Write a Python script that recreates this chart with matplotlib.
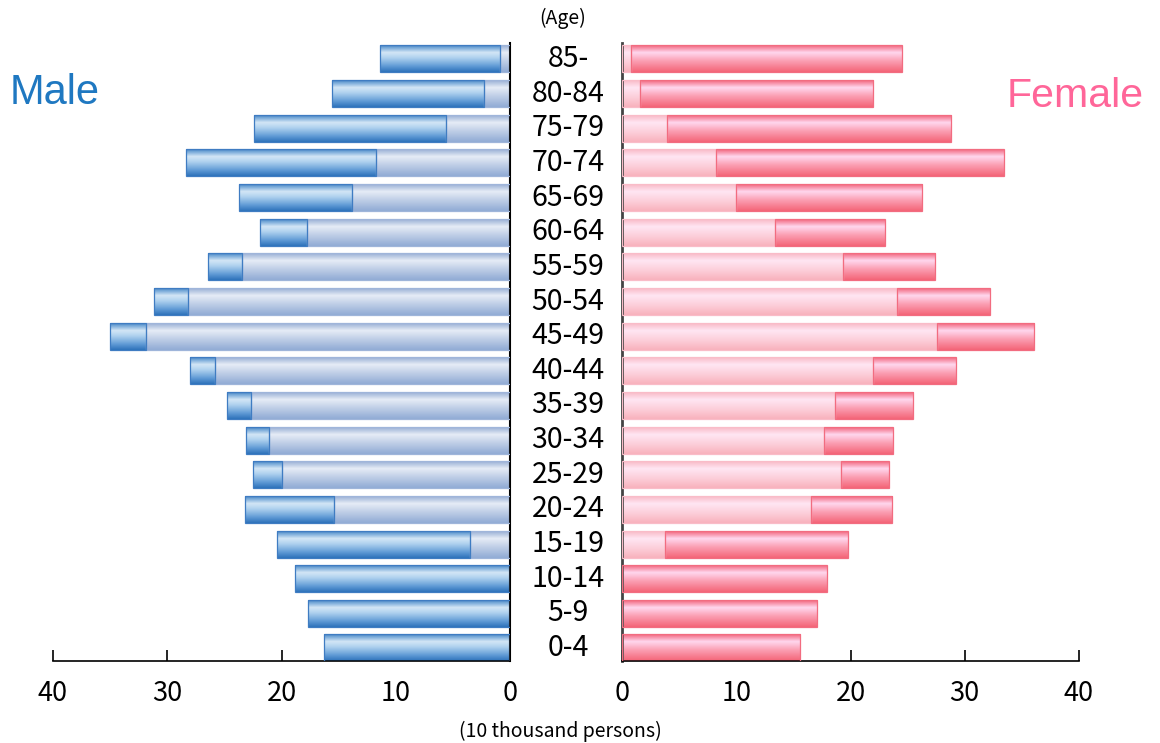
import numpy as np
import matplotlib
matplotlib.use("Agg")
import matplotlib.pyplot as plt
from matplotlib.colors import LinearSegmentedColormap
from matplotlib import transforms

ages = ["0-4", "5-9", "10-14", "15-19", "20-24", "25-29", "30-34", "35-39", "40-44",
        "45-49", "50-54", "55-59", "60-64", "65-69", "70-74", "75-79", "80-84", "85-"]

# total population (10 thousand persons), youngest first
male_total = [16.3, 17.7, 18.8, 20.4, 23.2, 22.5, 23.1, 24.8, 28.0,
              35.0, 31.2, 26.4, 21.9, 23.7, 28.4, 22.4, 15.6, 11.4]
female_total = [15.6, 17.1, 17.9, 19.8, 23.6, 23.4, 23.7, 25.5, 29.2,
                36.1, 32.2, 27.4, 23.0, 26.3, 33.4, 28.8, 22.0, 24.5]
# inner (lighter) part of each bar
male_inner = [0, 0, 0, 3.5, 15.4, 20.0, 21.1, 22.7, 25.8,
              31.9, 28.2, 23.5, 17.8, 13.8, 11.7, 5.6, 2.3, 0.9]
female_inner = [0, 0, 0, 3.8, 16.5, 19.2, 17.7, 18.6, 22.0,
                27.6, 24.1, 19.3, 13.4, 10.0, 8.2, 3.9, 1.6, 0.8]

ticks = [0, 10, 20, 30, 40]

plt.rcParams['font.family'] = ['Noto Sans CJK JP', 'DejaVu Sans']

def cmap(stops):
    return LinearSegmentedColormap.from_list("g", stops)

blue_dark = cmap([(0, "#2c6cb3"), (0.1, "#6aa0d4"), (0.3, "#d3e6f6"), (0.5, "#add0ee"),
                  (0.8, "#5f9ad5"), (1, "#2e72bb")])
blue_light = cmap([(0, "#8ea7d1"), (0.3, "#e6ecf6"), (0.6, "#c0cfe7"), (1, "#91abd5")])
pink_dark = cmap([(0, "#f1566e"), (0.3, "#ffd7ee"), (0.6, "#fba0b4"), (1, "#f46578")])
pink_light = cmap([(0, "#f8b3c0"), (0.3, "#ffe6f3"), (0.7, "#fccbd6"), (1, "#f8b2bd")])

grad = np.linspace(0, 1, 64).reshape(-1, 1)


def gradient_bars(ax, y, left, width, cm, edge):
    bars = ax.barh(y, width, left=left, height=0.78, color="none", edgecolor=edge,
                   linewidth=0.9, zorder=3)
    for b in bars:
        x0, y0 = b.get_x(), b.get_y()
        w, h = b.get_width(), b.get_height()
        if w == 0:
            continue
        im = ax.imshow(grad, cmap=cm, extent=(x0, x0 + w, y0, y0 + h), origin="upper",
                       aspect="auto", zorder=2, interpolation="bilinear")
        im.set_clip_path(b)


fig = plt.figure(figsize=(11.6, 7.43), dpi=100)
axl = fig.add_axes([53 / 1160, 0.1104, 457 / 1160, 0.8382])
axr = fig.add_axes([622 / 1160, 0.1104, 457 / 1160, 0.8382])

y = np.arange(len(ages))
mt = np.array(male_total)
mi = np.array(male_inner)
ft = np.array(female_total)
fi = np.array(female_inner)

gradient_bars(axl, y, 0, mi, blue_light, "#9fb5da")
gradient_bars(axl, y, mi, mt - mi, blue_dark, "#3f7cc2")
gradient_bars(axr, y, 0, fi, pink_light, "#f9bcc8")
gradient_bars(axr, y, fi, ft - fi, pink_dark, "#f26c80")

for ax in (axl, axr):
    ax.set_ylim(-0.375, 17.6)
    ax.set_yticks([])
    ax.spines["top"].set_visible(False)
    ax.set_xticks(ticks)
    ax.tick_params(axis="x", direction="in", length=8, width=1.2, labelsize=19.5, pad=14)
    ax.spines["bottom"].set_linewidth(1.2)

axl.set_xlim(40, 0)
axl.spines["left"].set_visible(False)
axl.spines["right"].set_linewidth(1.5)
axl.spines["right"].set_color("black")
axl.spines["right"].set_bounds(-0.375, 17.45)

axr.set_xlim(0, 40)
axr.spines["right"].set_visible(False)
axr.spines["left"].set_linewidth(2)
axr.spines["left"].set_color("#444444")
axr.spines["left"].set_bounds(-0.375, 17.45)

tr = transforms.blended_transform_factory(fig.transFigure, axl.transData)
for yy, lab in zip(y, ages):
    fig.text(568 / 1160, yy, lab, transform=tr, ha="center", va="center", fontsize=20.5)

fig.text(563 / 1160, 1 - 18 / 743, "(Age)", ha="center", va="center", fontsize=14)
fig.text(560 / 1160, 1 - 731 / 743, "(10 thousand persons)", ha="center", va="center",
         fontsize=14)
fig.text(10 / 1160, 1 - 93 / 743, "Male", ha="left", va="center", fontsize=30,
         color="#1f78c1", family="Liberation Sans")
fig.text(1144 / 1160, 1 - 96 / 743, "Female", ha="right", va="center", fontsize=29.5,
         color="#ff6699", family="Liberation Sans")

fig.savefig("out.png", dpi=100)
